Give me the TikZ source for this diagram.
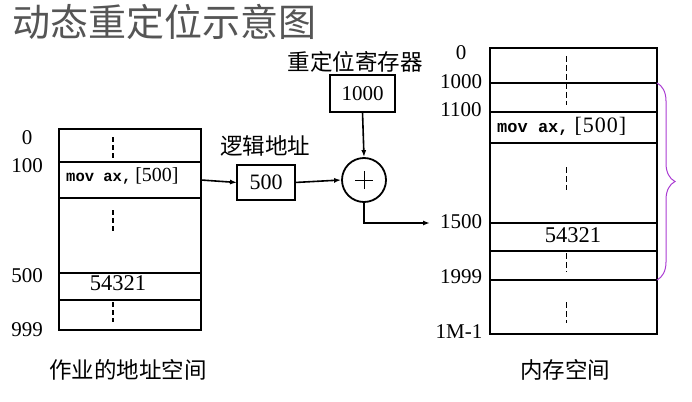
\documentclass[tikz,border=0pt]{standalone}
\usepackage{fontspec}
\setmainfont{Liberation Serif}
\newfontfamily\cjk{Noto Sans CJK SC}
\newfontfamily\codefont{Liberation Mono}
\usetikzlibrary{arrows.meta,decorations.pathreplacing}
\definecolor{brc}{RGB}{170,60,210}
\definecolor{ttl}{RGB}{85,85,85}
\begin{document}
\begin{tikzpicture}[x=1pt,y=-1pt]
\tikzstyle{every node}+=[inner sep=0pt]
\tikzstyle{cell}=[draw=black,line width=2.9pt,rectangle,anchor=north west,outer sep=0pt]
\tikzstyle{num}=[font=\fontsize{21}{21}\selectfont]
\tikzstyle{zh}=[font=\cjk\fontsize{22.5}{23}\selectfont]
\tikzstyle{arr}=[black,line width=1.6pt,-{Latex[length=7pt,width=5pt]}]
\useasboundingbox (0,0) rectangle (692,401);
\draw (12,22) node [anchor=west,text=ttl,font=\cjk\fontsize{38}{40}\selectfont] (title) {动态重定位示意图};
% job address space
\node [cell,minimum width=142pt,minimum height=33pt] (j0) at (59,129) {};
\node [cell,minimum width=142pt,minimum height=36pt] (j1) at (59,162) {};
\node [cell,minimum width=142pt,minimum height=75pt] (j2) at (59,198) {};
\node [cell,minimum width=142pt,minimum height=27pt] (j3) at (59,273) {};
\node [cell,minimum width=142pt,minimum height=30pt] (j4) at (59,300) {};
\draw (66,176) node [anchor=west] (jcode) {{\codefont\bfseries\fontsize{15.5}{15}\selectfont mov ax,}\hspace{4pt}\fontsize{20}{20}\selectfont[500]};
\draw (118,283) node [font=\fontsize{22.5}{22}\selectfont] (jdata) {54321};
\draw [black,line width=2pt,dash pattern=on 5pt off 3pt] (113,137) -- (113,158);
\draw [black,line width=2pt,dash pattern=on 5pt off 3pt] (113,210) -- (113,233);
\draw [black,line width=2pt,dash pattern=on 5pt off 3pt] (113,302) -- (113,322);
\draw (27,138) node [num] (ja) {0};
\draw (27,166) node [num] (jb) {100};
\draw (27,276) node [num] (jc) {500};
\draw (27,330) node [num] (jd) {999};
\draw (128,370) node [zh] (jname) {作业的地址空间};
% relocation
\node [cell,minimum width=58pt,minimum height=35pt] (la) at (237,165) {};
\draw (la.center) node [num,font=\fontsize{22}{22}\selectfont] (lav) {500};
\draw (265,146) node [zh] (laname) {逻辑地址};
\node [cell,minimum width=65pt,minimum height=37pt] (reg) at (330,75) {};
\draw (reg.center) node [num] (regv) {1000};
\draw (355,62) node [zh] (regname) {重定位寄存器};
\node [draw=black,circle,line width=1.8pt,minimum size=44pt] (add) at (364,180) {};
\draw [black,line width=0.6pt] ([xshift=-9pt]add.center) -- ([xshift=9pt]add.center);
\draw [black,line width=0.6pt] ([yshift=-9pt]add.center) -- ([yshift=9pt]add.center);
\coordinate (mout) at (430,223);
\draw [arr] (j1.east) -- (la.west);
\draw [arr] (la.east) -- (add.west);
\draw [arr] (reg.south) -- (add.north);
\draw [arr] (add.south) |- (mout);
% main memory
\node [cell,minimum width=167pt,minimum height=35pt] (m0) at (490,48) {};
\node [cell,minimum width=167pt,minimum height=29pt] (m1) at (490,83) {};
\node [cell,minimum width=167pt,minimum height=31pt] (m2) at (490,112) {};
\node [cell,minimum width=167pt,minimum height=80pt] (m3) at (490,143) {};
\node [cell,minimum width=167pt,minimum height=28pt] (m4) at (490,223) {};
\node [cell,minimum width=167pt,minimum height=29pt] (m5) at (490,251) {};
\node [cell,minimum width=167pt,minimum height=54pt] (m6) at (490,280) {};
\draw (497,126) node [anchor=west] (mcode) {{\codefont\bfseries\fontsize{17}{17}\selectfont mov ax,}\hspace{6pt}\fontsize{22}{22}\selectfont[\kern1pt5\kern1pt0\kern1pt0\kern1pt]};
\draw (573,235) node [font=\fontsize{22.5}{22}\selectfont] (mdata) {54321};
\draw [black,line width=1pt,dash pattern=on 6pt off 3pt] (566,56) -- (566,105);
\draw [black,line width=1pt,dash pattern=on 6pt off 3pt] (566,167) -- (566,190);
\draw [black,line width=1pt,dash pattern=on 6pt off 3pt] (566,253) -- (566,272);
\draw [black,line width=1pt,dash pattern=on 6pt off 3pt] (566,302) -- (566,323);
\draw (461,53) node [num] (ma) {0};
\draw (461,82) node [num] (mb) {1000};
\draw (461,110) node [num] (mc) {1100};
\draw (461,222) node [num] (md) {1500};
\draw (461,277) node [num] (me) {1999};
\draw (459,332) node [num] (mf) {1M-1};
\draw (565,370) node [zh] (mname) {内存空间};
\draw [brc,line width=1pt,decorate,decoration={brace,amplitude=18pt}] (m1.north east) -- (m5.south east);
\end{tikzpicture}
\end{document}
